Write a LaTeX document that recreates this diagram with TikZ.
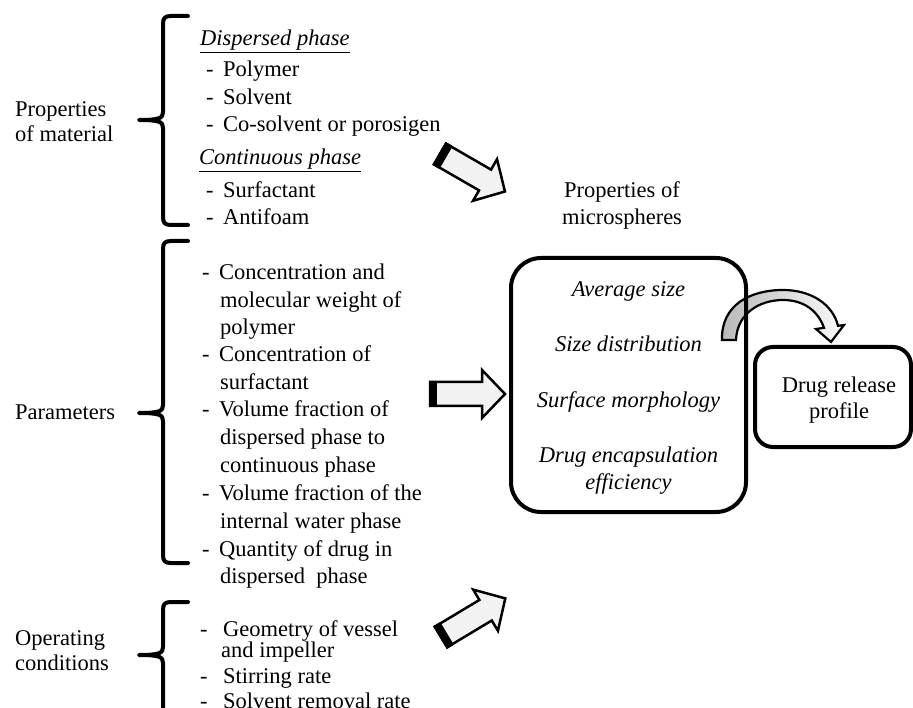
\documentclass[tikz,border=0pt]{standalone}
\usepackage{fontspec}
\setmainfont{Liberation Serif}
\newcommand\dashitem[1]{\makebox[17pt][l]{-}#1}
\newcommand\blockarrowpath{(0,-12) -- (52,-12) -- (52,-24) -- (75,0) -- (52,24) -- (52,12) -- (0,12) -- cycle}
\begin{document}
\begin{tikzpicture}[x=1pt,y=-1pt,
  txt/.style={anchor=base west, inner sep=0pt, font=\fontsize{22.5}{26}\selectfont},
  ctxt/.style={anchor=base, inner sep=0pt, font=\fontsize{22.5}{26}\selectfont},
  brace/.style={line width=4pt, line cap=round, line join=round},
  blockarrow/.style={fill=gray!10, draw=black, line width=2.5pt, line join=miter},
  roundbox/.style={draw=black, line width=4pt, inner sep=0pt}]
\useasboundingbox (0,0) rectangle (913,708);
\clip (0,0) rectangle (913,708);

% ---- curly braces ----
\draw[brace] (188,16) -- (171,16) .. controls (165,16) and (163,18) .. (163,24) -- (163,112)
  .. controls (163,118) and (160,120) .. (139,120)
  .. controls (160,120) and (163,122) .. (163,128) -- (163,217)
  .. controls (163,223) and (165,225) .. (171,225) -- (188,225);
\draw[brace] (188,241) -- (171,241) .. controls (165,241) and (163,243) .. (163,249) -- (163,405)
  .. controls (163,411) and (160,413) .. (139,413)
  .. controls (160,413) and (163,415) .. (163,421) -- (163,555)
  .. controls (163,561) and (165,563) .. (171,563) -- (188,563);
\draw[brace] (188,602) -- (171,602) .. controls (165,602) and (163,604) .. (163,610) -- (163,647)
  .. controls (163,653) and (160,655) .. (139,655)
  .. controls (160,655) and (163,657) .. (163,663) -- (163,760);

% ---- group labels ----
\node[txt] (lbl-mat1) at (15,117) {Properties};
\node[txt] (lbl-mat2) at (15,142) {of material};
\node[txt] (lbl-par) at (15,420) {Parameters};
\node[txt] (lbl-op1) at (15,645) {Operating};
\node[txt] (lbl-op2) at (15,670) {conditions};

% ---- properties of material ----
\node[txt] (disp) at (200,46) {\underline{\textit{Dispersed phase}}};
\node[txt] (poly) at (206,77) {\dashitem{Polymer}};
\node[txt] (solv) at (206,104.5) {\dashitem{Solvent}};
\node[txt] (cosolv) at (206,132) {\dashitem{Co-solvent or porosigen}};
\node[txt] (cont) at (199,165) {\underline{\textit{Continuous phase}}};
\node[txt] (surf) at (206,198) {\dashitem{Surfactant}};
\node[txt] (afoam) at (206,225) {\dashitem{Antifoam}};

% ---- parameters ----
\node[txt] (p1a) at (202,280.0) {\dashitem{Concentration and}};
\node[txt] (p1b) at (220,307.5) {molecular weight of};
\node[txt] (p1c) at (220,334.5) {polymer};
\node[txt] (p2a) at (202,362) {\dashitem{Concentration of}};
\node[txt] (p2b) at (220,389.5) {surfactant};
\node[txt] (p3a) at (202,417) {\dashitem{Volume fraction of}};
\node[txt] (p3b) at (220,444.5) {dispersed phase to};
\node[txt] (p3c) at (220,472.5) {continuous phase};
\node[txt] (p4a) at (202,500) {\dashitem{Volume fraction of the}};
\node[txt] (p4b) at (220,528) {internal water phase};
\node[txt] (p5a) at (202,556) {\dashitem{Quantity of drug in}};
\node[txt] (p5b) at (220,583) {dispersed\ \ phase};

% ---- operating conditions ----
\node[txt] (o1a) at (200,636) {\makebox[23pt][l]{-}Geometry of vessel};
\node[txt] (o1b) at (221,657) {and impeller};
\node[txt] (o2) at (200,683) {\makebox[23pt][l]{-}Stirring rate};
\node[txt] (o3) at (200,708) {\makebox[23pt][l]{-}Solvent removal rate};

% ---- block arrows (tail band in black) ----
\begin{scope}[shift={(440,154)}, rotate=-30]
  \filldraw[blockarrow] \blockarrowpath;
  \fill[black] (-1.25,-13.25) rectangle (7,13.25);
\end{scope}
\begin{scope}[shift={(430,394)}]
  \filldraw[blockarrow] \blockarrowpath;
  \fill[black] (-1.25,-13.25) rectangle (7,13.25);
\end{scope}
\begin{scope}[shift={(441,637)}, rotate=31]
  \filldraw[blockarrow] \blockarrowpath;
  \fill[black] (-1.25,-13.25) rectangle (7,13.25);
\end{scope}

% ---- microsphere properties ----
\node[ctxt] (ms1) at (622,198) {Properties of};
\node[ctxt] (ms2) at (622,225) {microspheres};

% curved arrow towards the release profile
\filldraw[draw=black, line width=2.2pt, line join=miter, left color=gray!55, right color=gray!4]
  (722,340) .. controls (721,305) and (750,290) .. (783,290)
  .. controls (812,290) and (833,305) .. (838,325.8)
  -- (844,325) -- (831,342) -- (816,329) -- (824,327.8)
  .. controls (818,311) and (804,300) .. (783,300)
  .. controls (760,300) and (737,313) .. (736,340) -- cycle;

\node[roundbox, rounded corners=30pt, minimum width=235pt, minimum height=254pt] (props) at (628.5,385) {};
\node[ctxt] (avg) at (628.5,297) {\textit{Average size}};
\node[ctxt] (dist) at (628.5,352) {\textit{Size distribution}};
\node[ctxt] (morph) at (628.5,407) {\textit{Surface morphology}};
\node[ctxt] (enc1) at (628.5,462) {\textit{Drug encapsulation}};
\node[ctxt] (enc2) at (628.5,489) {\textit{efficiency}};

\node[roundbox, rounded corners=18pt, minimum width=156pt, minimum height=100pt] (release) at (833,397) {};
\node[ctxt] (rel1) at (839,392) {Drug release};
\node[ctxt] (rel2) at (839,418) {profile};
\end{tikzpicture}
\end{document}
